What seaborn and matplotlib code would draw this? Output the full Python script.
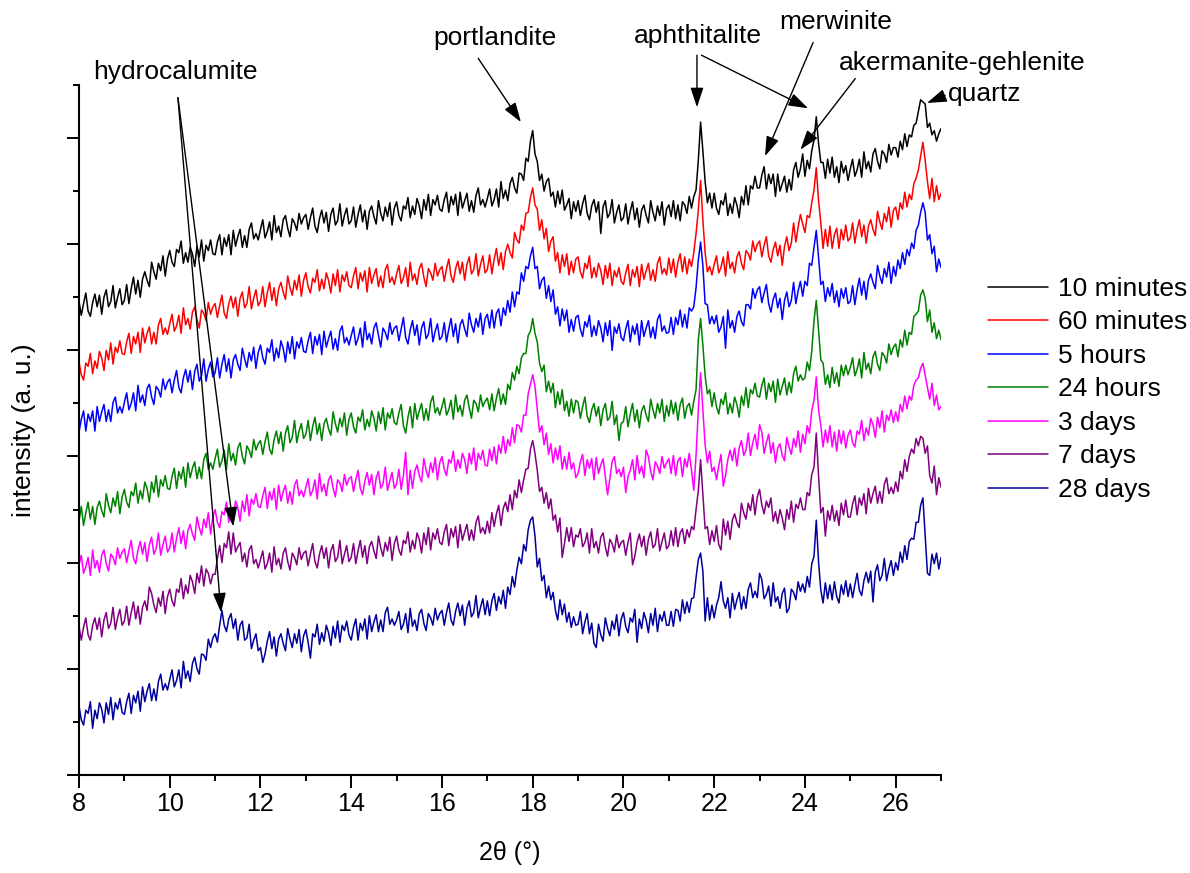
import numpy as np
import pandas as pd
import matplotlib.pyplot as plt
import seaborn as sns
from matplotlib.ticker import MultipleLocator

sns.set_style("ticks")
plt.rcParams['font.family'] = ['Liberation Sans', 'DejaVu Sans']
plt.rcParams.update({"text.color": "black", "axes.labelcolor": "black",
                     "xtick.color": "black", "ytick.color": "black",
                     "axes.edgecolor": "black"})

# Amostras e cores
amostras = ["10 minutes", "60 minutes", "5 hours", "24 hours", "3 days", "7 days", "28 days"]
cores = ["#000000", "#ff0000", "#0000ff", "#008000", "#ff00ff", "#800080", "#00009c"]

# Difratogramas: 2theta de 8 a 27 graus, passo 0.05 (cada linha = 1 grau)
i_10min = [
    446, 433, 444, 454, 437, 432, 445, 453, 441, 452, 434, 450, 457, 441, 446, 461, 440, 450, 458, 443,
    447, 462, 444, 458, 469, 453, 466, 450, 467, 474, 466, 460, 483, 474, 467, 482, 475, 489, 470, 486,
    494, 483, 479, 495, 492, 503, 482, 492, 483, 497, 491, 479, 498, 488, 504, 484, 499, 494, 504, 491,
    490, 502, 509, 490, 506, 498, 509, 490, 513, 498, 507, 514, 497, 508, 497, 514, 520, 505, 510, 504,
    514, 523, 506, 512, 521, 504, 527, 511, 517, 507, 523, 527, 515, 507, 524, 520, 513, 529, 519, 525,
    528, 514, 525, 534, 517, 511, 524, 532, 520, 530, 512, 528, 534, 518, 522, 538, 517, 527, 534, 519,
    522, 535, 516, 528, 537, 521, 532, 514, 531, 536, 526, 519, 541, 529, 522, 535, 526, 539, 518, 534,
    540, 527, 522, 536, 533, 544, 525, 536, 528, 543, 536, 524, 542, 532, 547, 527, 542, 537, 546, 533,
    531, 542, 549, 530, 545, 537, 547, 527, 549, 534, 541, 548, 531, 541, 530, 546, 553, 537, 542, 535,
    543, 552, 536, 542, 552, 535, 559, 543, 551, 541, 557, 563, 553, 548, 567, 566, 560, 581, 578, 597,
    607, 585, 578, 560, 566, 550, 559, 562, 545, 549, 535, 550, 538, 551, 532, 537, 543, 524, 540, 531,
    541, 527, 538, 546, 529, 523, 536, 542, 530, 540, 510, 535, 541, 525, 529, 542, 520, 530, 537, 522,
    525, 538, 519, 531, 540, 523, 534, 516, 532, 537, 527, 520, 541, 530, 522, 536, 527, 540, 518, 533,
    537, 526, 541, 524, 537, 522, 540, 537, 529, 545, 534, 545, 551, 579, 615, 588, 559, 539, 548, 534,
    548, 534, 528, 541, 537, 548, 527, 538, 529, 544, 537, 525, 545, 537, 555, 537, 555, 552, 564, 553,
    553, 565, 573, 552, 566, 557, 566, 545, 566, 550, 557, 564, 549, 561, 551, 570, 577, 563, 571, 585,
    564, 579, 571, 588, 598, 620, 595, 577, 577, 562, 580, 567, 582, 563, 573, 558, 578, 567, 574, 560,
    571, 580, 564, 570, 580, 563, 587, 571, 578, 568, 585, 590, 578, 571, 588, 585, 577, 594, 584, 591,
    591, 582, 597, 589, 604, 592, 603, 601, 612, 614, 625, 636, 634, 632, 610, 614, 603, 607, 597, 604,
    609]

i_60min = [
    389, 377, 372, 388, 385, 397, 378, 390, 383, 399, 393, 381, 400, 391, 407, 387, 403, 398, 409, 397,
    396, 408, 416, 397, 413, 406, 417, 398, 421, 407, 416, 422, 406, 417, 406, 424, 430, 415, 421, 415,
    425, 434, 418, 423, 433, 416, 440, 424, 430, 420, 436, 441, 429, 421, 438, 435, 428, 445, 434, 441,
    444, 431, 442, 452, 435, 430, 444, 451, 440, 450, 432, 449, 455, 440, 444, 460, 439, 449, 457, 442,
    446, 460, 441, 454, 464, 447, 459, 442, 458, 464, 455, 448, 470, 459, 452, 466, 457, 471, 451, 466,
    473, 460, 454, 468, 464, 476, 456, 467, 458, 473, 466, 454, 472, 461, 476, 455, 471, 465, 474, 461,
    459, 470, 478, 458, 473, 465, 475, 455, 478, 463, 471, 477, 460, 470, 459, 476, 481, 464, 469, 462,
    472, 480, 463, 468, 478, 460, 483, 466, 472, 462, 477, 482, 469, 460, 477, 473, 466, 482, 470, 476,
    479, 465, 477, 486, 470, 464, 477, 484, 472, 483, 466, 481, 488, 472, 476, 491, 470, 481, 489, 473,
    476, 490, 472, 486, 496, 480, 492, 476, 493, 500, 492, 487, 511, 504, 501, 518, 513, 529, 530, 544,
    553, 537, 533, 513, 523, 505, 515, 493, 503, 507, 484, 492, 473, 490, 479, 491, 471, 484, 473, 486,
    488, 474, 468, 482, 477, 489, 468, 478, 469, 482, 475, 462, 480, 468, 482, 461, 475, 469, 478, 465,
    462, 473, 481, 461, 476, 469, 479, 460, 481, 467, 475, 482, 466, 476, 465, 482, 488, 472, 477, 471,
    487, 473, 486, 469, 483, 491, 474, 488, 472, 486, 479, 492, 510, 532, 560, 523, 492, 474, 479, 471,
    481, 489, 473, 478, 488, 470, 493, 477, 483, 473, 488, 493, 482, 476, 494, 491, 485, 503, 493, 500,
    503, 488, 499, 507, 489, 483, 495, 502, 489, 499, 480, 498, 507, 494, 501, 520, 502, 516, 528, 519,
    511, 527, 525, 539, 551, 572, 541, 520, 496, 514, 498, 517, 496, 509, 515, 496, 514, 504, 518, 503,
    506, 520, 501, 514, 523, 507, 518, 501, 517, 523, 514, 508, 531, 521, 514, 529, 521, 535, 516, 532,
    535, 523, 539, 533, 549, 535, 547, 542, 557, 562, 570, 583, 596, 579, 559, 543, 562, 540, 555, 542,
    548]

i_5h = [
    323, 335, 343, 324, 340, 333, 343, 324, 347, 333, 342, 349, 333, 344, 333, 351, 356, 341, 347, 341,
    351, 360, 344, 350, 360, 343, 367, 351, 358, 348, 364, 368, 356, 349, 366, 363, 356, 373, 363, 370,
    373, 360, 372, 381, 365, 360, 374, 382, 370, 381, 363, 380, 387, 371, 376, 392, 371, 382, 389, 375,
    379, 393, 374, 387, 396, 380, 392, 374, 391, 396, 387, 381, 402, 392, 384, 398, 390, 403, 383, 398,
    405, 393, 387, 402, 398, 410, 390, 402, 393, 409, 402, 389, 408, 397, 413, 392, 408, 402, 412, 399,
    398, 409, 417, 397, 413, 405, 415, 396, 418, 403, 411, 418, 401, 411, 400, 418, 423, 407, 412, 405,
    414, 422, 405, 411, 421, 403, 427, 410, 416, 406, 421, 426, 414, 403, 421, 417, 410, 426, 415, 421,
    423, 409, 420, 431, 412, 406, 419, 428, 414, 424, 405, 421, 427, 411, 415, 430, 408, 418, 425, 410,
    413, 426, 408, 420, 430, 413, 425, 407, 424, 429, 420, 413, 435, 424, 417, 430, 422, 435, 415, 430,
    434, 421, 438, 421, 435, 439, 423, 440, 433, 447, 436, 455, 441, 455, 453, 473, 465, 479, 477, 489,
    497, 477, 479, 458, 466, 469, 449, 461, 446, 457, 434, 441, 423, 439, 428, 438, 417, 429, 418, 431,
    433, 420, 413, 427, 422, 433, 413, 423, 414, 428, 421, 408, 426, 414, 428, 400, 422, 416, 425, 412,
    409, 420, 428, 408, 423, 415, 425, 405, 428, 413, 421, 428, 412, 422, 411, 429, 434, 418, 423, 416,
    417, 431, 415, 431, 424, 438, 422, 434, 421, 440, 437, 441, 459, 485, 502, 480, 444, 443, 425, 432,
    425, 433, 417, 422, 432, 402, 438, 421, 428, 417, 432, 437, 427, 423, 443, 443, 439, 458, 449, 457,
    460, 445, 454, 462, 444, 436, 448, 454, 440, 449, 429, 447, 455, 441, 447, 464, 444, 456, 465, 451,
    465, 461, 482, 480, 497, 513, 487, 462, 465, 446, 459, 451, 463, 445, 456, 441, 458, 449, 459, 444,
    446, 461, 443, 457, 468, 452, 465, 448, 466, 472, 464, 458, 480, 470, 463, 477, 469, 483, 463, 479,
    470, 485, 477, 492, 481, 495, 489, 501, 496, 513, 518, 530, 539, 530, 504, 509, 491, 498, 474, 486,
    478]

i_24h = [
    239, 253, 235, 247, 257, 241, 253, 236, 252, 258, 249, 243, 265, 254, 247, 261, 253, 267, 246, 262,
    269, 257, 252, 267, 263, 275, 256, 268, 260, 276, 270, 257, 276, 266, 282, 262, 278, 272, 282, 270,
    269, 281, 289, 270, 286, 279, 290, 271, 294, 280, 289, 295, 279, 290, 279, 297, 303, 288, 294, 288,
    298, 307, 290, 296, 306, 288, 312, 296, 303, 292, 308, 313, 300, 293, 310, 306, 299, 316, 306, 312,
    315, 302, 314, 323, 307, 302, 316, 324, 312, 323, 305, 322, 329, 313, 318, 334, 313, 324, 331, 317,
    321, 334, 315, 328, 337, 321, 331, 315, 331, 336, 326, 320, 342, 331, 323, 336, 328, 341, 320, 335,
    341, 328, 322, 337, 333, 344, 325, 335, 328, 343, 336, 324, 342, 331, 346, 325, 341, 336, 345, 332,
    330, 341, 349, 329, 322, 337, 347, 327, 350, 335, 343, 350, 334, 345, 334, 351, 357, 341, 346, 339,
    347, 355, 339, 344, 353, 335, 358, 342, 348, 338, 353, 358, 346, 336, 353, 350, 342, 358, 347, 352,
    355, 344, 359, 343, 355, 364, 349, 359, 349, 368, 363, 379, 372, 385, 378, 393, 397, 397, 414, 418,
    430, 416, 408, 388, 380, 386, 361, 371, 360, 369, 346, 361, 349, 363, 343, 352, 338, 354, 341, 353,
    351, 336, 347, 356, 338, 332, 344, 350, 338, 347, 329, 344, 350, 334, 337, 352, 330, 339, 315, 331,
    333, 347, 328, 340, 350, 333, 344, 327, 343, 348, 339, 333, 354, 344, 336, 350, 341, 354, 333, 348,
    338, 353, 340, 351, 334, 349, 355, 336, 347, 350, 339, 352, 363, 410, 430, 405, 376, 359, 363, 347,
    360, 347, 340, 354, 349, 360, 340, 350, 341, 356, 349, 337, 357, 348, 365, 346, 363, 359, 369, 357,
    356, 367, 374, 354, 369, 361, 371, 351, 373, 358, 366, 374, 358, 370, 360, 378, 385, 371, 377, 372,
    374, 389, 381, 399, 428, 447, 419, 391, 388, 368, 377, 365, 384, 369, 379, 366, 386, 376, 386, 377,
    384, 393, 376, 382, 392, 374, 398, 382, 388, 378, 394, 399, 387, 381, 398, 395, 388, 406, 396, 403,
    406, 394, 410, 403, 419, 405, 417, 415, 432, 434, 437, 452, 457, 449, 427, 438, 417, 426, 411, 419,
    410]

i_3d = [
    198, 207, 190, 196, 205, 188, 212, 195, 202, 191, 207, 212, 199, 192, 208, 205, 198, 214, 204, 210,
    213, 200, 211, 221, 204, 199, 212, 220, 208, 219, 201, 217, 224, 208, 213, 228, 207, 217, 225, 210,
    214, 228, 210, 223, 233, 218, 230, 213, 230, 236, 227, 221, 243, 233, 226, 241, 233, 247, 227, 243,
    250, 238, 233, 248, 245, 257, 238, 250, 242, 258, 252, 239, 258, 248, 264, 244, 260, 255, 265, 253,
    252, 263, 271, 251, 267, 259, 270, 250, 273, 258, 267, 273, 256, 267, 255, 273, 278, 263, 268, 262,
    271, 279, 263, 268, 278, 260, 284, 267, 274, 263, 278, 282, 270, 262, 278, 275, 267, 283, 273, 279,
    281, 267, 278, 287, 270, 264, 277, 285, 273, 283, 264, 280, 286, 270, 274, 290, 268, 277, 285, 270,
    274, 288, 269, 282, 304, 264, 287, 270, 286, 292, 282, 276, 298, 287, 280, 294, 285, 299, 278, 294,
    300, 288, 282, 297, 294, 305, 286, 297, 289, 303, 297, 284, 303, 293, 308, 287, 303, 297, 306, 292,
    291, 307, 296, 309, 293, 311, 303, 319, 303, 316, 310, 327, 313, 330, 329, 323, 339, 339, 359, 368,
    377, 366, 344, 323, 329, 311, 322, 302, 312, 294, 308, 297, 310, 288, 300, 288, 304, 288, 294, 280,
    284, 295, 302, 282, 297, 289, 298, 278, 299, 284, 292, 298, 281, 264, 279, 295, 300, 284, 288, 281,
    290, 266, 281, 287, 297, 278, 301, 284, 291, 280, 306, 300, 286, 278, 295, 291, 284, 300, 289, 294,
    298, 284, 301, 282, 296, 299, 281, 298, 290, 303, 287, 268, 301, 344, 379, 344, 311, 294, 305, 286,
    290, 278, 291, 302, 272, 282, 297, 306, 296, 308, 291, 308, 315, 301, 306, 322, 301, 313, 321, 307,
    330, 323, 303, 313, 321, 303, 313, 294, 308, 312, 301, 296, 318, 309, 302, 317, 309, 324, 304, 321,
    312, 329, 322, 343, 353, 375, 344, 329, 309, 325, 313, 329, 309, 323, 305, 325, 312, 324, 308, 320,
    325, 313, 309, 324, 321, 334, 315, 327, 320, 336, 330, 318, 337, 327, 343, 323, 339, 334, 344, 332,
    342, 333, 349, 342, 357, 345, 357, 353, 367, 372, 374, 383, 388, 377, 365, 354, 369, 348, 358, 344,
    347]

i_7d = [
    140, 127, 139, 148, 132, 127, 141, 148, 137, 148, 130, 146, 153, 138, 143, 158, 137, 148, 156, 141,
    145, 159, 141, 153, 163, 147, 159, 142, 158, 164, 155, 177, 171, 160, 153, 167, 159, 173, 152, 168,
    175, 164, 159, 175, 172, 185, 166, 179, 171, 188, 182, 171, 190, 181, 197, 178, 194, 190, 180, 189,
    189, 204, 216, 200, 218, 214, 229, 208, 228, 210, 215, 219, 201, 209, 196, 212, 216, 199, 203, 195,
    203, 211, 194, 199, 209, 191, 215, 198, 204, 194, 209, 214, 201, 193, 209, 205, 198, 214, 203, 209,
    211, 197, 208, 218, 201, 195, 208, 216, 204, 214, 195, 211, 217, 201, 205, 221, 199, 208, 216, 201,
    205, 218, 199, 211, 221, 205, 216, 199, 215, 220, 211, 204, 225, 214, 206, 219, 211, 224, 202, 218,
    225, 212, 207, 221, 218, 229, 210, 221, 213, 228, 222, 209, 228, 217, 233, 212, 228, 222, 232, 219,
    217, 229, 236, 216, 232, 224, 234, 214, 236, 221, 229, 236, 221, 231, 221, 238, 244, 228, 233, 227,
    239, 228, 247, 234, 246, 254, 235, 251, 257, 248, 264, 250, 268, 261, 278, 266, 278, 288, 289, 307,
    315, 303, 287, 267, 271, 256, 266, 251, 260, 240, 245, 229, 242, 205, 218, 233, 220, 233, 215, 226,
    224, 232, 215, 219, 228, 209, 232, 214, 220, 209, 224, 228, 215, 206, 222, 218, 210, 226, 214, 219,
    221, 207, 219, 228, 198, 206, 219, 227, 215, 225, 207, 222, 229, 214, 217, 232, 211, 220, 228, 213,
    216, 230, 216, 233, 215, 228, 232, 218, 231, 224, 234, 231, 250, 268, 297, 264, 232, 234, 217, 230,
    220, 235, 217, 212, 241, 226, 239, 222, 240, 246, 238, 233, 256, 247, 241, 256, 249, 264, 245, 262,
    269, 254, 246, 258, 252, 261, 239, 248, 237, 250, 242, 231, 250, 241, 258, 238, 255, 251, 261, 250,
    250, 266, 263, 283, 290, 322, 282, 247, 252, 225, 249, 240, 254, 239, 249, 235, 256, 245, 259, 243,
    243, 255, 263, 245, 261, 254, 265, 246, 270, 256, 265, 272, 256, 267, 256, 274, 280, 265, 271, 265,
    276, 267, 286, 279, 297, 286, 300, 307, 303, 317, 310, 319, 317, 303, 310, 282, 275, 291, 264, 280,
    271]

i_28d = [
    65, 52, 47, 61, 58, 69, 44, 61, 53, 68, 62, 49, 68, 57, 73, 52, 68, 62, 72, 59,
    57, 69, 77, 58, 75, 68, 79, 60, 83, 69, 79, 86, 70, 81, 70, 88, 95, 80, 86, 80,
    90, 99, 83, 89, 99, 82, 107, 91, 98, 88, 105, 111, 100, 95, 114, 113, 108, 128, 120, 129,
    133, 125, 141, 155, 141, 135, 147, 152, 138, 147, 127, 141, 145, 127, 129, 142, 119, 127, 133, 117,
    120, 106, 114, 126, 135, 119, 130, 112, 128, 133, 124, 117, 138, 128, 120, 133, 124, 137, 116, 131,
    137, 125, 110, 133, 130, 142, 123, 134, 126, 141, 134, 122, 140, 129, 145, 125, 141, 136, 145, 132,
    127, 139, 147, 127, 143, 136, 147, 128, 150, 135, 144, 151, 135, 146, 135, 153, 158, 142, 147, 141,
    146, 154, 137, 142, 152, 134, 157, 140, 146, 136, 152, 156, 143, 136, 152, 148, 141, 157, 146, 152,
    155, 141, 153, 162, 146, 141, 154, 162, 150, 160, 141, 157, 164, 149, 153, 169, 148, 158, 166, 151,
    164, 150, 164, 171, 155, 168, 161, 174, 157, 177, 170, 187, 177, 193, 205, 199, 217, 211, 231, 240,
    243, 225, 196, 204, 183, 188, 167, 178, 165, 172, 155, 146, 165, 151, 161, 144, 153, 139, 149, 141,
    142, 154, 133, 144, 152, 133, 143, 124, 120, 142, 132, 126, 148, 138, 131, 145, 137, 151, 131, 147,
    153, 140, 134, 148, 144, 156, 125, 147, 138, 153, 146, 134, 152, 141, 157, 135, 151, 145, 154, 141,
    141, 154, 140, 156, 155, 145, 165, 152, 163, 153, 166, 167, 186, 203, 209, 192, 145, 167, 146, 160,
    148, 160, 167, 182, 164, 157, 167, 148, 171, 156, 165, 172, 156, 168, 157, 175, 181, 167, 173, 167,
    190, 184, 166, 170, 178, 159, 181, 163, 168, 157, 171, 176, 153, 157, 175, 172, 165, 182, 173, 180,
    172, 187, 177, 199, 206, 240, 201, 174, 162, 181, 166, 179, 165, 182, 168, 162, 179, 170, 183, 168,
    180, 167, 179, 190, 174, 169, 183, 191, 181, 192, 163, 191, 198, 183, 188, 204, 183, 194, 202, 188,
    200, 193, 210, 200, 216, 203, 220, 223, 222, 238, 238, 254, 261, 225, 190, 188, 208, 199, 209, 194,
    205]

series = [i_10min, i_60min, i_5h, i_24h, i_3d, i_7d, i_28d]

# tabela longa para o seaborn
frames = []
for nome, valores in zip(amostras, series):
    two_theta = 8 + 0.05 * np.arange(len(valores))
    frames.append(pd.DataFrame({"two_theta": two_theta, "intensity": valores, "sample": nome}))
df = pd.concat(frames, ignore_index=True)

fig = plt.figure(figsize=(11.9, 8.73), dpi=100)
ax = fig.add_axes([0.0664, 0.1123, 0.7244, 0.7904])

sns.lineplot(data=df, x="two_theta", y="intensity", hue="sample",
             palette=dict(zip(amostras, cores)), hue_order=amostras,
             estimator=None, sort=False, lw=1.1, ax=ax)

ax.set_xlim(8, 27)
ax.set_ylim(0, 650)
ax.xaxis.set_major_locator(MultipleLocator(2))
ax.xaxis.set_minor_locator(MultipleLocator(1))
ax.yaxis.set_major_locator(MultipleLocator(100))
ax.yaxis.set_minor_locator(MultipleLocator(50))
ax.tick_params(which="major", direction="out", length=9, width=1.4, labelsize=18, pad=3)
ax.tick_params(which="minor", direction="out", length=4.5, width=1.4)
ax.tick_params(axis="y", labelleft=False)
sns.despine(ax=ax)
for s in ["left", "bottom"]:
    ax.spines[s].set_linewidth(1.5)

ax.set_xlabel("2θ (°)", fontsize=18)
ax.set_ylabel("intensity (a. u.)", fontsize=19)
ax.xaxis.set_label_coords(0.5, -0.095)
ax.yaxis.set_label_coords(-0.05, 0.5)

# Legenda fora do eixo
handles, labels = ax.get_legend_handles_labels()
ax.get_legend().remove()
fig.legend(handles, labels, loc="upper left", bbox_to_anchor=(0.830, 0.683),
           frameon=False, fontsize=19, handlelength=2.3, handletextpad=0.35,
           labelspacing=0.36, borderpad=0, borderaxespad=0)

# Identificacao das fases
seta = dict(arrowstyle="-|>,head_length=0.6,head_width=0.2", color="black",
            lw=1.0, mutation_scale=20, shrinkA=0, shrinkB=0)
rotulos = [
    ("hydrocalumite", 10.12, 662),
    ("portlandite", 17.17, 694),
    ("aphthitalite", 21.65, 696),
    ("merwinite", 24.67, 709),
    ("akermanite-gehlenite", 27.47, 671),
    ("quartz", 27.97, 641),
]
for txt, tx, ty in rotulos:
    ax.text(tx, ty, txt, fontsize=19, ha="center", va="center", clip_on=False)

setas = [
    ((10.18, 638), (11.40, 234)),
    ((10.18, 638), (11.13, 153)),
    ((16.80, 675), (17.74, 615)),
    ((21.62, 678), (21.62, 629)),
    ((21.72, 678), (24.07, 628)),
    ((24.18, 690), (23.12, 583)),
    ((25.11, 656), (23.90, 589)),
    ((27.09, 640), (26.69, 633)),
]
for inicio, fim in setas:
    ax.annotate("", xy=fim, xytext=inicio, arrowprops=seta, annotation_clip=False)

fig.savefig("out.png", dpi=100)
